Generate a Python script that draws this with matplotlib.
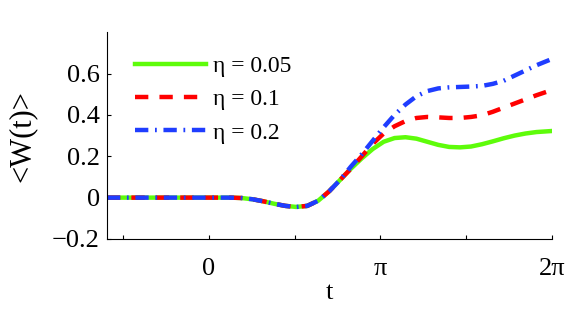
import numpy as np
import matplotlib
matplotlib.use("Agg")
import matplotlib.pyplot as plt

t = [-1.87, -1.0, 0.0, 0.4, 0.6, 0.8, 1.0, 1.2, 1.4, 1.6, 1.8, 2.0, 2.2, 2.4, 2.6, 2.8,
     3.0, 3.2, 3.4, 3.6, 3.8, 4.0, 4.2, 4.4, 4.6, 4.8, 5.0, 5.2, 5.4, 5.6, 5.8, 6.0, 6.28]
w_005 = [0, 0, 0, 0, -0.002, -0.008, -0.018, -0.03, -0.04, -0.045, -0.04, -0.015, 0.03, 0.085, 0.14, 0.19,
         0.235, 0.27, 0.288, 0.292, 0.285, 0.27, 0.255, 0.245, 0.243, 0.247, 0.258, 0.272, 0.287, 0.30, 0.31, 0.317, 0.322]
w_01 = [0, 0, 0, 0, -0.002, -0.008, -0.018, -0.03, -0.04, -0.045, -0.04, -0.015, 0.03, 0.085, 0.14, 0.20,
        0.26, 0.31, 0.345, 0.37, 0.385, 0.39, 0.388, 0.385, 0.385, 0.39, 0.398, 0.415, 0.435, 0.455, 0.475, 0.495, 0.52]
w_02 = [0, 0, 0, 0, -0.002, -0.008, -0.018, -0.03, -0.04, -0.045, -0.04, -0.015, 0.03, 0.085, 0.15, 0.21,
        0.275, 0.34, 0.40, 0.45, 0.49, 0.515, 0.528, 0.533, 0.535, 0.537, 0.54, 0.55, 0.565, 0.59, 0.615, 0.64, 0.67]
labels = ["η = 0.05", "η = 0.1", "η = 0.2"]
yticks = [-0.2, 0, 0.2, 0.4, 0.6]
ytick_labels = ["−0.2", "0", "0.2", "0.4", "0.6"]

plt.rcParams['font.family'] = ['Liberation Serif', 'DejaVu Serif']

fig = plt.figure(figsize=(5.81, 3.12), dpi=100)
ax = fig.add_axes([0.184, 0.234, 0.766, 0.663])

ax.plot(t, w_005, color='#5efc0a', lw=3.2, ls='-', label=labels[0])
ax.plot(t, w_01, color='#ff0000', lw=3.2, ls=(0, (3, 2.5)), label=labels[1])
ax.plot(t, w_02, color='#1f3dff', lw=3.2, ls=(0, (3, 1.5, 0.4, 1.5)), label=labels[2])

ax.set_xlim(-1.87, 2 * np.pi)
ax.set_ylim(-0.2, 0.8)
ax.set_xticks(np.arange(-0.5, 2.01, 0.5) * np.pi)
ax.set_xticklabels(["", "0", "", "π", "", "2π"])
ax.set_yticks(yticks)
ax.set_yticklabels(ytick_labels)
ax.tick_params(direction='in', length=3, width=0.8, labelsize=19)
ax.tick_params(axis='x', pad=14)
ax.tick_params(axis='y', pad=5)
for s in ['top', 'right']:
    ax.spines[s].set_visible(False)
ax.set_xlabel("t", fontsize=19, labelpad=1)
ax.set_ylabel("<W(t)>", fontsize=22, labelpad=11)

leg = ax.legend(loc='upper left', frameon=False, fontsize=17, handlelength=3.0,
                bbox_to_anchor=(0.015, 0.99), labelspacing=0.5, handletextpad=0.3)

fig.savefig("out.png", dpi=100)
